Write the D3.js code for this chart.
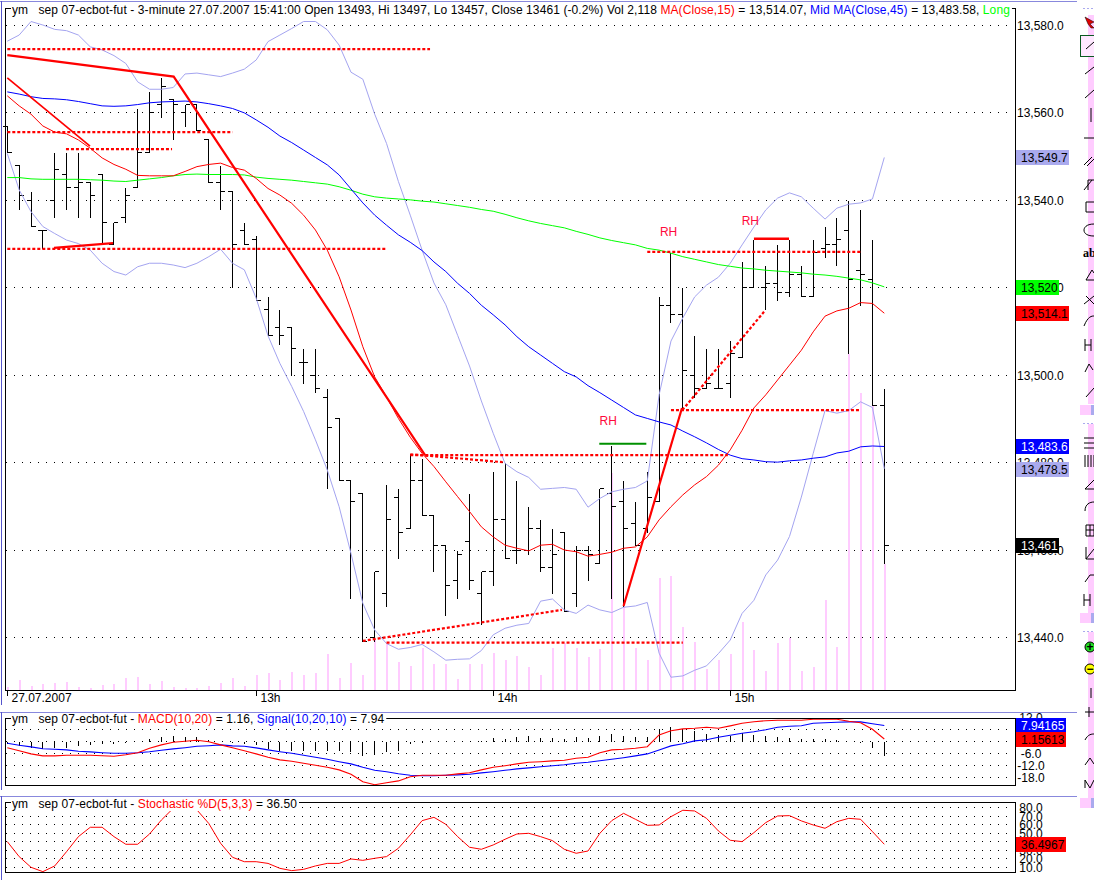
<!DOCTYPE html>
<html><head><meta charset="utf-8">
<script src="https://cdnjs.cloudflare.com/ajax/libs/d3/7.8.5/d3.min.js"></script>
<style>html,body{margin:0;padding:0;background:#fff;overflow:hidden}svg{display:block}text{font-family:"Liberation Sans",Arial,sans-serif;font-size:12px}</style>
</head><body><svg id="c" width="1094" height="880"></svg>
<script>
// ---- price bars ----
const opens =[13557,13548,13540,13533,13540,13546,13543,13544,13546,13530,13536,13543,13551,13562,13563,13560,13562,13554,13544,13542,13533,13531,13515,13511,13511,13503,13500,13495,13490,13476,13473,13440,13450,13472,13465,13476,13468,13461,13453,13462,13450,13455,13467,13460,13460,13465,13456,13464,13450,13460,13457,13473,13471,13466,13465,13471,13516,13514,13500,13497,13497,13498,13504,13520,13520,13521,13519,13523,13518,13529,13530,13533,13524,13522,13493];
const highs =[13557,13548,13542,13533,13551,13551,13551,13544,13546,13535,13543,13561,13565,13568,13563,13562,13562,13554,13548,13542,13535,13532,13518,13515,13511,13506,13506,13497,13490,13476,13473,13455,13475,13474,13482,13481,13468,13461,13460,13473,13455,13478,13480,13476,13470,13467,13465,13464,13461,13461,13474,13484,13476,13471,13478,13518,13528,13520,13509,13506,13506,13508,13526,13531,13525,13530,13531,13525,13531,13534,13536,13540,13538,13531,13497];
const lows  =[13551,13538,13534,13529,13536,13538,13536,13536,13530,13530,13535,13543,13551,13559,13554,13557,13556,13544,13538,13520,13530,13517,13509,13507,13500,13498,13496,13474,13476,13449,13439,13439,13447,13458,13465,13468,13455,13445,13449,13451,13443,13452,13458,13457,13459,13455,13450,13446,13447,13453,13457,13449,13447,13461,13464,13471,13512,13492,13495,13497,13497,13495,13504,13520,13515,13517,13518,13518,13518,13527,13525,13505,13516,13493,13457];
const closes=[13551,13541,13534,13533,13547,13543,13544,13541,13535,13535,13541,13551,13560,13566,13562,13562,13556,13544,13542,13530,13530,13517,13509,13509,13506,13503,13497,13488,13476,13471,13439,13455,13467,13464,13476,13468,13461,13452,13459,13453,13455,13467,13458,13460,13465,13456,13459,13446,13460,13459,13474,13470,13465,13461,13472,13516,13514,13501,13497,13498,13497,13505,13520,13531,13521,13519,13523,13518,13528,13530,13531,13522,13523,13493,13461];
const volumes=[50,168,67,101,118,134,50,34,84,101,202,219,101,151,50,34,34,67,118,202,67,252,286,168,303,252,286,605,202,454,252,840,790,471,403,706,437,437,185,437,437,622,504,572,387,252,706,790,706,555,689,3648,1429,706,504,1883,1916,1059,807,353,504,605,1143,672,319,790,874,319,387,1513,723,5648,4993,4791,2118];
// ---- overlays ----
const bbUpper=[13576.3,13577.7,13580.8,13580,13579,13578.7,13577.7,13575,13574.3,13573,13571.2,13567,13565.3,13565.3,13565.7,13568.8,13569,13568.6,13568.2,13569,13569.9,13572,13576.2,13577.7,13579.2,13580.8,13580.8,13578.9,13575.4,13569.2,13567.6,13559.6,13552.9,13544.2,13536.5,13528.5,13521,13516,13509,13502,13494,13486.6,13479.7,13477.8,13476.5,13473.8,13474,13474.2,13473.8,13469.7,13471.7,13473.2,13473.8,13474.2,13475.7,13495.4,13507.7,13513,13517.8,13520.5,13522.3,13525.5,13529.7,13533.8,13537.7,13540.4,13541.6,13540.7,13538.1,13535.6,13538.1,13539,13539.3,13540.2,13549.7];
const bbLower=[13550.6,13542.3,13537.3,13533.9,13532.3,13530.8,13530,13528.5,13525.5,13523.6,13522.8,13524.7,13525.5,13525.5,13525.1,13524.5,13525.5,13527,13528.7,13525.5,13524,13517.5,13508.9,13502.6,13497.3,13491.6,13485.1,13478.2,13469.8,13459.1,13447.7,13441.6,13438.5,13437.2,13437.6,13438.3,13436.6,13434.7,13434.9,13435,13436.9,13440.5,13442,13442.7,13443.1,13448.2,13448.7,13446.2,13445.4,13447.3,13446.2,13445.6,13446.8,13447.1,13447.9,13436.3,13430.8,13431.1,13432.4,13433.4,13436.2,13439.3,13445.4,13448.4,13454.2,13457.6,13463,13472,13482,13491.8,13491.2,13491.8,13493.8,13492.5,13478.5];
const ma15=[13563.8,13561.5,13559.6,13556.9,13555.5,13555.1,13553.7,13551.8,13549.6,13548.1,13547,13545.6,13545.5,13545.5,13545.5,13546.5,13547.6,13548.1,13548.4,13547.4,13546.8,13544.9,13542.6,13541.1,13539.2,13536.5,13533.1,13528.5,13522.4,13514.8,13506.4,13499.5,13494.9,13490,13485.7,13482,13479,13475.5,13472.1,13468.7,13465.2,13462.9,13461,13460.3,13459.7,13461,13461.2,13459.9,13459.5,13458.5,13458.9,13459.4,13460.3,13460.6,13462.9,13466.8,13469.8,13472.5,13474.8,13476.7,13479.3,13482.8,13487.3,13492.4,13495.4,13498.8,13502.2,13505.6,13509.8,13513.4,13514.6,13515.2,13516.5,13516.3,13514.07];
const ma45=[13564.7,13564.2,13563.6,13563.2,13563.1,13562.9,13562.5,13562,13561.5,13561.4,13561.5,13561.8,13562.2,13562.4,13562.5,13562.6,13562.4,13562,13561.5,13560.9,13559.9,13558.3,13556.6,13554.6,13553.1,13551.4,13549.7,13548,13545.7,13542.5,13539.3,13536.5,13534.2,13532,13530.3,13528.4,13525.8,13523.6,13520.9,13518.6,13515.9,13513.7,13511.4,13508.7,13506.4,13504.5,13502.6,13500.7,13499.5,13497.5,13495.9,13494.2,13492.5,13490.8,13490,13489.2,13488.5,13487.1,13485.8,13484.4,13482.9,13481.6,13480.8,13480.5,13480.1,13480,13480.3,13480.5,13480.9,13481.2,13482.1,13482.5,13483.5,13483.7,13483.58];
const maLong=[13545.1,13545.1,13544.8,13544.7,13544.7,13544.7,13544.7,13544.6,13544.5,13544.3,13544.2,13544.5,13544.8,13545.1,13545.5,13545.8,13545.9,13545.8,13545.8,13545.8,13545.7,13545.2,13544.9,13544.7,13544.5,13544.2,13543.9,13543.6,13543,13542.2,13541.3,13540.7,13540.4,13540.2,13540,13539.7,13539.5,13539.1,13538.7,13538.3,13537.8,13537.4,13536.7,13535.9,13535.2,13534.6,13534.1,13533.6,13532.8,13532.1,13531.3,13530.7,13530.2,13529.7,13528.9,13528.5,13527.8,13527,13526.4,13525.8,13525.2,13524.8,13524.4,13524.2,13523.9,13523.7,13523.5,13523.3,13523,13522.8,13522.5,13522.1,13521.7,13521,13520.1];
// ---- hand-drawn study lines: [barIndex, price] ----
const solidRed=[
 {w:2.2,pts:[[0,13573.1],[14.04,13568.2],[35.25,13481.6]]},
 {w:1.7,pts:[[0,13567.9],[6.98,13552.3]]},
 {w:2.2,pts:[[3.94,13529],[8.92,13530.1]]},
 {w:2.2,pts:[[52,13447.1],[56.93,13492.4]]},
 {w:2.4,pts:[[63,13531.1],[65.96,13531.1]]}];
const solidGreen=[[49.95,13484.2],[53.92,13484.2]];
const dashedRed=[
 [[0,13574.5],[35.67,13574.5]],[[0,13555.5],[19,13555.5]],[[4.95,13551.6],[13.9,13551.6]],
 [[0,13528.8],[31.95,13528.8]],[[32,13438.7],[57,13438.7]],[[34,13481.6],[60.8,13481.6]],
 [[34,13481.8],[41.8,13480]],[[30,13439.1],[46.8,13446.2]],[[56,13491.9],[72,13491.9]],
 [[54,13528.1],[72,13528.1]],[[56.96,13491.9],[63.85,13514.4]]];
const rhLabels=[[50.7,13488.5],[55.8,13531.7],[62.7,13534.2]];
// ---- MACD ----
const macd=[-3.2,-4.7,-6.3,-7.3,-7.3,-7,-7,-7,-7.2,-7.5,-6.7,-5.7,-3.5,-1.8,-.5,0,.5,-.2,-1.8,-3.2,-4.7,-6.3,-8,-9.3,-10,-11,-12,-13,-14.3,-16.5,-20.2,-21.7,-20.7,-19.8,-17.7,-17,-17,-17,-16.3,-15.7,-14.3,-13,-12.2,-11.3,-10.5,-10.2,-9.8,-9.5,-8.5,-8,-5.7,-4.3,-4,-3.5,-2.7,3.2,5.3,6.2,6.5,7,6.5,7.7,9,9.8,10.3,10.5,10.5,10.5,11,11,11,10,9.3,6,1.16];
const signal=[-1,-2,-2.8,-3.7,-4,-4.3,-5,-5.3,-5.7,-6,-6,-5.7,-5.2,-4.5,-3.8,-3.2,-2.5,-2.2,-1.8,-2.3,-2.5,-3.3,-4.3,-5.2,-6,-7,-8,-9,-10.2,-11.3,-13,-14.5,-15.2,-16.2,-17,-17.2,-17.2,-17,-16.8,-16.5,-15.8,-15.2,-14.5,-13.8,-13.3,-12.7,-12.2,-11.7,-11,-10.5,-9.7,-9,-8.2,-7.3,-6.3,-4.3,-2.3,-1.2,.2,.8,2,3,4,4.8,5.8,7,7.5,7.8,9,9.3,9.5,9.7,9.7,8.8,7.94];
const hist=[-1,-2,-2.7,-3.5,-3,-2.7,-2,-1.3,-1,-.8,-.5,0,1.5,2.8,3.2,2.8,2.5,1.2,.2,-.3,-.7,-1.5,-3.5,-4.2,-4.2,-4.2,-4.2,-4.2,-4.2,-4.7,-7,-6.2,-4.7,-4.2,-1,-.3,.1,.1,.2,.3,.7,2.3,1.8,2.5,3,2.3,2,1.8,2.5,2.3,3.2,4,3.2,2.7,2.7,6.8,7.7,6.5,5.7,4.3,3.7,3.2,4.7,3.7,3.2,2.7,2.3,1.5,1.5,1.5,1.2,.3,-.2,-2.7,-6.78];
// ---- Stochastic ----
const stoch=[39.6,22,9.4,4.3,11,27.8,45.5,56.5,56.5,45.5,36.5,36.5,48.6,65,78.8,88,76.9,61,37.6,21.2,16,16,14,8.2,5.5,7,11,14,14,19.2,17.6,20,22,31.8,47.5,64.3,68.2,60,45.5,33,30.6,35.7,42.4,48.6,49.4,45.5,40.8,30.6,25.9,28.6,49.4,64.3,72.9,65.9,58.8,59.2,69,76.5,75.7,67,52.2,41.2,39.6,50.2,62,69.8,70.2,64,59.2,55.3,63.1,67,65.9,51.4,36.5];
// ---- axis ticks / labels ----
const priceTicks=[13580,13560,13540,13520,13500,13480,13460,13440];
const priceBoxes=[
 {v:13549.7,t:"13,549.7",bg:"#aaaaee",fg:"#000",w:53},
 {v:13520.1,t:"13,520",bg:"#00ff00",fg:"#000",w:43},
 {v:13514.07,t:"13,514.1",bg:"#ff0000",fg:"#000",w:53},
 {v:13483.58,t:"13,483.6",bg:"#0000ff",fg:"#fff",w:53},
 {v:13478.5,t:"13,478.5",bg:"#aaaaee",fg:"#000",w:53},
 {v:13461,t:"13,461",bg:"#000",fg:"#fff",w:43}];
const timeTicks=[[0,"27.07.2007"],[21,"13h"],[41,"14h"],[61,"15h"]];
const macdTicks=[12,6,0,-6,-12,-18];
const macdBoxes=[{v:7.94165,t:"7.94165",bg:"#0000ff",fg:"#fff"},{v:1.15613,t:"1.15613",bg:"#ff0000",fg:"#000"}];
const stochTicks=[80,70,60,50,40,30,20,10];
const stochBoxes=[{v:36.4967,t:"36.4967",bg:"#ff0000",fg:"#000"}];
const mainTitle=[["ym   sep 07-ecbot-fut - 3-minute 27.07.2007 15:41:00 Open 13493, Hi 13497, Lo 13457, Close 13461 (-0.2%) Vol 2,118 ","#000"],["MA(Close,15)","#f00"],[" = 13,514.07, ","#000"],["Mid MA(Close,45)","#00f"],[" = 13,483.58, ","#000"],["Long","#0f0"]];
const macdTitle=[["ym   sep 07-ecbot-fut - ","#000"],["MACD(10,20)","#f00"],[" = 1.16, ","#000"],["Signal(10,20,10)","#00f"],[" = 7.94","#000"]];
const stochTitle=[["ym   sep 07-ecbot-fut - ","#000"],["Stochastic %D(5,3,3)","#f00"],[" = 36.50","#000"]];

const svg=d3.select("#c");
const idx=d3.range(closes.length);
const x=d3.scaleLinear().domain([0,74]).range([7.3,884.3]);
const y=d3.scaleLinear().domain([13440,13580]).range([637,25]);
const vy=d3.scaleLinear().domain([0,2118]).range([690,564]);
const my=d3.scaleLinear().domain([-18,6]).range([777.3,729.3]);
const sy=d3.scaleLinear().domain([10,80]).range([866.8,807.3]);
const px=v=>Math.floor(x(v))+.5, py=v=>Math.round(y(v))+.5;
const L=5.5,R=1015.5,DOTX=d3.range(6,1014,8);

function dots(g,rows){rows.forEach(r=>{g.selectAll(null).data(DOTX).join("rect").attr("x",d=>d).attr("y",Math.round(r)).attr("width",1).attr("height",1).attr("fill","#000");});}
function frame(t,b){svg.append("rect").attr("x",L).attr("y",t).attr("width",R-L).attr("height",b-t).attr("fill","none").attr("stroke","#000").attr("shape-rendering","crispEdges");}
function series(g,data,sc,color,w){g.append("path").datum(data).attr("fill","none").attr("stroke",color).attr("stroke-width",w||1)
 .attr("d",d3.line().x((d,i)=>x(i)).y(d=>sc(d)));}
function title(parts,ty,bgTop,bgH,ls){
 const bg=svg.append("rect").attr("x",11).attr("y",bgTop).attr("height",bgH).attr("fill","#fff");
 const t=svg.append("text").attr("x",12).attr("y",ty).attr("xml:space","preserve").style("white-space","pre").style("letter-spacing",(ls||0)+"px");
 parts.forEach(p=>t.append("tspan").attr("fill",p[1]).text(p[0]));
 bg.attr("width",t.node().getComputedTextLength()+3);
}
function boxes(list,sc,bx,tx,fixedW){list.forEach(b=>{const c=Math.round(sc(b.v));
 svg.append("rect").attr("x",bx).attr("y",c-7).attr("width",b.w||fixedW).attr("height",15).attr("fill",b.bg);
 svg.append("text").attr("x",tx).attr("y",c+4.5).attr("fill",b.fg).text(b.t);});}

// window separators
const sep=svg.append("g").attr("fill","none").attr("shape-rendering","crispEdges");
sep.append("path").attr("d","M0 1.5H1077M0 712.5H1077M0 796.5H1077").attr("stroke","#8888dd");
sep.append("path").attr("d","M1.5 1V705M1.5 712V790M1.5 796V880").attr("stroke","#5555cc");

// ---- main panel ----
const main=svg.append("g");
dots(main,priceTicks.map(y));
main.append("g").attr("shape-rendering","crispEdges").selectAll("rect").data(idx).join("rect")
 .attr("x",i=>Math.floor(x(i))-.5).attr("width",2).attr("y",i=>vy(volumes[i])).attr("height",i=>690-vy(volumes[i])).attr("fill","#ffccff");
const bars=main.append("g").attr("stroke","#000").attr("shape-rendering","crispEdges");
bars.selectAll("path").data(idx).join("path")
 .attr("d",i=>`M${px(i)} ${py(highs[i])}V${py(lows[i])}M${px(i)-4.5} ${py(opens[i])}H${px(i)}M${px(i)} ${py(closes[i])}H${px(i)+4.5}`);
series(main,bbUpper,y,"#a4a4f0");
series(main,bbLower,y,"#a4a4f0");
series(main,maLong,y,"#00ff00");
series(main,ma45,y,"#0000ff");
series(main,ma15,y,"#ff0000");
const ln=d3.line().x(d=>x(d[0])).y(d=>y(d[1]));
dashedRed.forEach(p=>main.append("path").attr("d",ln(p)).attr("fill","none").attr("stroke","#ff0000").attr("stroke-width",2.2).attr("stroke-dasharray","3 2"));
solidRed.forEach(s=>main.append("path").attr("d",ln(s.pts)).attr("fill","none").attr("stroke","#ff0000").attr("stroke-width",s.w));
main.append("path").attr("d",ln(solidGreen)).attr("fill","none").attr("stroke","#009000").attr("stroke-width",2);
rhLabels.forEach(r=>main.append("text").attr("x",x(r[0])).attr("y",y(r[1])).attr("text-anchor","middle").attr("fill","#ff0a3c").text("RH"));
frame(8.5,690.5);
title(mainTitle,14,3,14,.1);
priceTicks.forEach(v=>svg.append("text").attr("x",1017).attr("y",Math.round(y(v))+4.5).attr("fill","#000").text(d3.format(",.1f")(v)));
boxes(priceBoxes,y,1016,1021);
timeTicks.forEach(t=>{const tx=px(t[0]);
 svg.append("path").attr("d",`M${tx} 691V696`).attr("stroke","#000").attr("shape-rendering","crispEdges");
 svg.append("text").attr("x",tx+4).attr("y",702).attr("fill","#000").text(t[1]);});

// ---- MACD panel ----
const mp=svg.append("g");
dots(mp,[6,0,-6,-12,-18].map(my));
mp.append("g").attr("stroke","#000").attr("shape-rendering","crispEdges").selectAll("path").data(idx).join("path")
 .attr("d",i=>`M${px(i)} ${Math.round(my(0))+.5}V${Math.round(my(hist[i]))+.5}`);
series(mp,signal,my,"#0000ff",1.1);
series(mp,macd,my,"#ff0000",1.1);
frame(718.5,785.5);
title(macdTitle,723,713,12,.1);
macdTicks.forEach(v=>svg.append("text").attr("x",1031).attr("y",Math.round(my(v))+4.5).attr("text-anchor","middle").attr("fill","#000").text(d3.format(".1f")(v).replace("−","-")));
boxes(macdBoxes,my,1016,1021,50);

// ---- Stochastic panel ----
const sp=svg.append("g");
dots(sp,stochTicks.map(sy));
series(sp,stoch,sy,"#ff0000");
frame(802.5,872.5);
title(stochTitle,808,797,14,.1);
stochTicks.forEach(v=>svg.append("text").attr("x",1031).attr("y",Math.round(sy(v))+4.5).attr("text-anchor","middle").attr("fill","#000").text(d3.format(".1f")(v)));
boxes(stochBoxes,sy,1016,1021,50);

// ---- drawing toolbar (window chrome, cut by the window edge) ----
const tb=svg.append("g").attr("shape-rendering","crispEdges");
[[15,389],[424,189],[632,166]].forEach(s=>tb.append("rect").attr("x",1088).attr("y",s[0]).attr("width",6).attr("height",s[1]).attr("fill","#ffccff"));
[[405,10],[613,10],[798,10]].forEach(s=>{tb.append("rect").attr("x",1080).attr("y",s[0]).attr("width",14).attr("height",s[1]).attr("fill","#ffccff");
 tb.append("rect").attr("x",1091).attr("y",s[0]).attr("width",3).attr("height",s[1]).attr("fill","#aaaaee");});
[8,423,631].forEach(t=>tb.append("path").attr("d",`M1083 ${t+.5}H1094`).attr("stroke","#aaaaee").attr("stroke-dasharray","2 2"));
tb.append("rect").attr("x",1080.5).attr("y",35.5).attr("width",15).attr("height",21).attr("fill","#ffe8ff").attr("stroke","#0a5a20");
const icons=[[47,"M1086 49L1094 42"],[71,"M1085 74L1094 67"],[95,"M1085 98L1094 90"],[115,"M1091 108V122"],[138,"M1084 138H1094"],[161,"M1084 165L1092 157M1087 166L1094 159"],[185,"M1084 190L1092 180M1088 190V180H1094"],[207,"M1086 202H1094M1086 212H1094M1086 202V212"],[230,"M1094 224C1086 224 1084 228 1084 230C1084 234 1088 236 1094 236"],[275,"M1086 280L1092 270L1094 273M1086 280H1094"],[300,"M1084 304L1094 296M1086 296L1094 304"],[320,"M1084 326C1088 316 1092 316 1094 316"],[345,"M1085 339V351M1091 339V351M1085 345H1091"],[368,"M1085 372L1089 364L1093 370"],[392,"M1086 397L1094 388"],[443,"M1084 438H1094M1084 443H1094M1084 448H1094"],[461,"M1085 455V467M1088 455V467M1091 455V467M1094 455V467"],[487,"M1085 489L1094 480M1085 489H1094"],[508,"M1085 511C1085 504 1090 502 1094 502"],[530,"M1086 525H1094V536H1086ZM1090 525V536M1086 530H1094"],[553,"M1086 559V547M1086 559L1094 549M1086 559H1094"],[575,"M1085 582L1090 575H1094"],[600,"M1084 594V606M1090 594V606M1084 600H1090"],[693,"M1091 688V698"],[712,"M1085 712H1094M1089 707V717"],[739,"M1085 740C1088 734 1092 734 1094 734"],[761,"M1085 765L1090 758L1094 764"],[784,"M1085 788V780L1090 788L1094 780"]];
tb.selectAll("path.ic").data(icons).join("path").attr("class","ic").attr("d",d=>d[1]).attr("fill","none").attr("stroke","#000").attr("shape-rendering","auto");
tb.append("path").attr("d","M1085 17L1094 22L1090 24L1094 28L1091 28L1088 24Z").attr("fill","#e00000").attr("stroke","#000").attr("stroke-width",.5).attr("shape-rendering","auto");
[[647,"#22dd22","+"],[669,"#ffff00","−"]].forEach(z=>{
 tb.append("circle").attr("cx",1090).attr("cy",z[0]).attr("r",5).attr("fill",z[1]).attr("stroke","#000").attr("shape-rendering","auto");
 svg.append("text").attr("x",1090).attr("y",z[0]+4).attr("text-anchor","middle").attr("font-weight","bold").attr("fill","#000").text(z[2]);});
svg.append("text").attr("x",1083).attr("y",257).attr("font-weight","bold").attr("fill","#000").style("font-family","'Liberation Serif',serif").text("ab");
</script></body></html>
